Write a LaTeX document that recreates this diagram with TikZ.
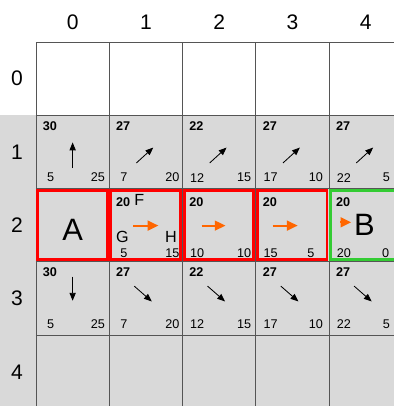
\documentclass[tikz,border=0pt]{standalone}
\usepackage{fontspec}
\setmainfont{Liberation Sans}
\usetikzlibrary{arrows.meta}
\definecolor{cellgray}{RGB}{217,217,217}
\definecolor{gridline}{RGB}{85,85,85}
\definecolor{pathred}{RGB}{255,0,0}
\definecolor{goalgreen}{RGB}{51,204,51}
\definecolor{moveorange}{RGB}{255,102,0}
\tikzset{
  gval/.style={font=\fontsize{9}{9}\selectfont\bfseries, anchor=west, inner sep=0pt},
  num/.style={font=\fontsize{9}{9}\selectfont, inner sep=0pt},
  axislab/.style={font=\fontsize{15}{15}\selectfont, inner sep=0pt},
  bigletter/.style={font=\fontsize{22}{22}\selectfont, inner sep=0pt, anchor=base},
  nodeletter/.style={font=\fontsize{11.5}{11.5}\selectfont, inner sep=0pt, anchor=base},
  dirarrow/.style={-{Triangle[length=5.6pt,width=4.4pt]}, line width=0.6pt},
  movearrow/.style={-{Triangle[length=7.6pt,width=7pt]}, line width=1.4pt, moveorange},
  pathbox/.style={draw=pathred, line width=2.1pt},
  goalbox/.style={draw=goalgreen, line width=2.1pt},
}
\begin{document}
\begin{tikzpicture}[x=1.835cm, y=1.835cm]
  \useasboundingbox (-0.491,0.573) rectangle (4.884,-4.966);
  \fill[cellgray] (-0.491,-1) rectangle (4.884,-4.966);
  % grid and axis labels
  \foreach \i in {0,...,4} {
    \draw[gridline, line width=0.6pt] (\i,0) -- (\i,-4.966);
    \draw[gridline, line width=0.6pt] (0,-\i) -- (4.884,-\i);
    \node[axislab] (col-\i) at (\i+0.5,0.27) {\i};
    \node[axislab] (row-\i) at (-0.26,-\i-0.5) {\i};
  }
  % start, path and goal cells
  \foreach \c in {0,...,3}
    \draw[pathbox] (\c+0.02,-2.02) rectangle (\c+0.97,-2.97);
  \draw[goalbox] (4.02,-2.02) rectangle (5.2,-2.97);
  % rows 1 and 3
  \foreach \rr in {1,3} {
    \foreach \c/\g/\l/\r/\rx in {0/30/5/25/0.845, 1/27/7/20/0.86, 2/22/12/15/0.84, 3/27/17/10/0.82, 4/27/22/5/0.78} {
      \node[gval] (g-\rr-\c) at (\c+0.09,-\rr-0.145) {\g};
      \node[num] (l-\rr-\c) at (\c+0.2,-\rr-0.85) {\l};
      \node[num] (r-\rr-\c) at (\c+\rx,-\rr-0.85) {\r};
    }
  }
  % row 2
  \node[bigletter] (A) at (0.5,-2.71) {A};
  \node[bigletter] (B) at (4.48,-2.64) {B};
  \node[nodeletter] (F) at (1.41,-2.23) {F};
  \node[nodeletter] (G) at (1.18,-2.735) {G};
  \node[nodeletter] (H) at (1.84,-2.735) {H};
  \foreach \c/\l/\r/\rx in {1/5/15/0.86, 2/10/10/0.84, 3/15/5/0.75, 4/20/0/0.77} {
    \node[gval] (g-2-\c) at (\c+0.09,-2.18) {20};
    \node[num] (l-2-\c) at (\c+0.2,-2.88) {\l};
    \node[num] (r-2-\c) at (\c+\rx,-2.88) {\r};
  }
  % direction arrows
  \coordinate (t-1-0) at (0.5,-1.72);
  \coordinate (h-1-0) at (0.5,-1.37);
  \coordinate (t-3-0) at (0.5,-3.2);
  \coordinate (h-3-0) at (0.5,-3.53);
  \draw[dirarrow] (t-1-0) -- (h-1-0);
  \draw[dirarrow] (t-3-0) -- (h-3-0);
  \foreach \c in {1,...,4} {
    \coordinate (t-1-\c) at (\c+0.37,-1.65);
    \coordinate (h-1-\c) at (\c+0.6,-1.44);
    \coordinate (t-3-\c) at (\c+0.34,-3.33);
    \coordinate (h-3-\c) at (\c+0.58,-3.54);
    \draw[dirarrow] (t-1-\c) -- (h-1-\c);
    \draw[dirarrow] (t-3-\c) -- (h-3-\c);
  }
  % moves along the path
  \foreach \c/\a/\b in {1/0.33/0.67, 2/0.26/0.585, 3/0.23/0.57} {
    \coordinate (mt-\c) at (\c+\a,-2.505);
    \coordinate (mh-\c) at (\c+\b,-2.505);
    \draw[movearrow] (mt-\c) -- (mh-\c);
  }
  \coordinate (mt-4) at (4.15,-2.46);
  \coordinate (mh-4) at (4.30,-2.46);
  \draw[movearrow] (mt-4) -- (mh-4);
\end{tikzpicture}
\end{document}
